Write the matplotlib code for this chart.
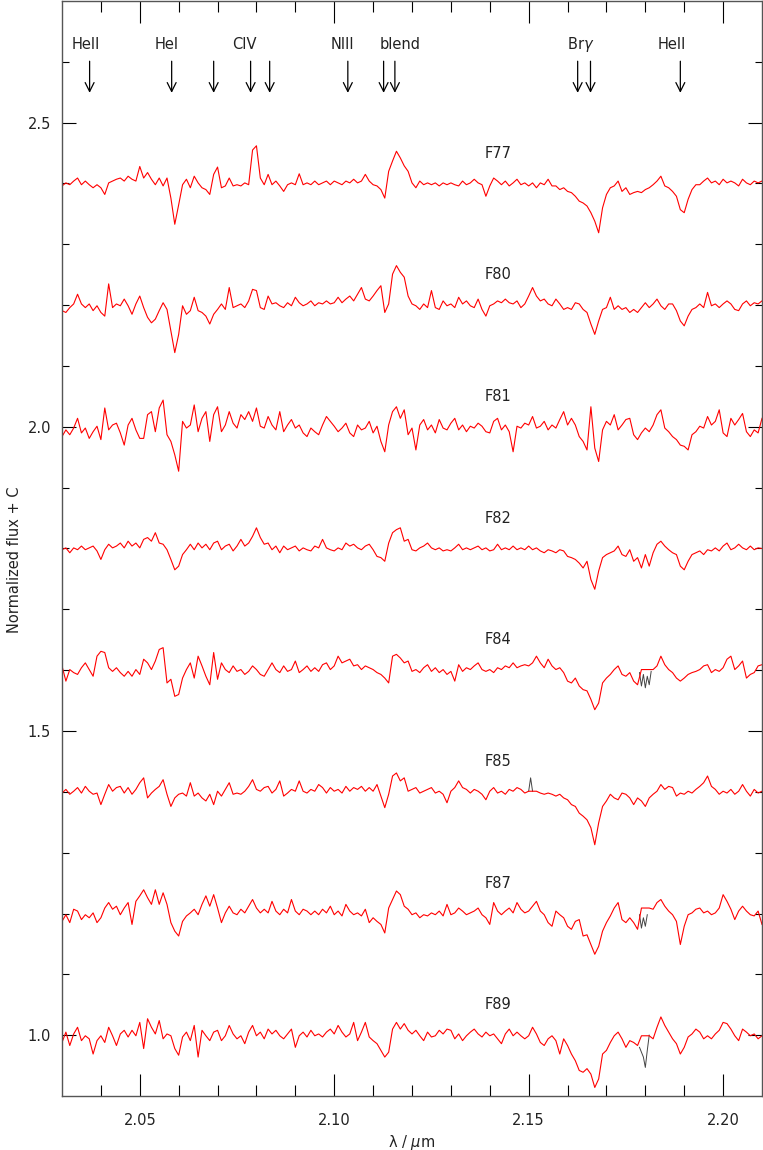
import matplotlib
matplotlib.use("Agg")
import matplotlib.pyplot as plt
import numpy as np

# 763 x 1150 output

# wavelength grid of the resampled spectra (micron)
wave = np.linspace(2.030, 2.210, 181)

# normalized flux, stored as deviation from continuum in units of 0.001
F77 = [-4, 1, -2, 4, 9, -2, 4, -2, -7, -2, -7, -18, 1, 4, 7, 9, 4, 12, 7, 4,
       28, 9, 18, 7, -2, 9, -4, 9, -24, -67, -35, -2, 7, -7, 12, 1, -7, -10, -18, 15,
       27, -7, -4, 9, -4, -2, -4, 1, -2, 55, 62, 9, -2, 15, -2, 4, -4, -13, -2, 1,
       -2, 16, -2, 1, -2, 4, -2, 1, 4, -2, 4, 1, -2, 4, 1, 7, 1, 4, 15, 4,
       -2, -4, -10, -24, 20, 37, 53, 42, 29, 20, 1, -7, 4, -2, 1, -2, 1, -4, 1, -2,
       1, -2, -4, 4, -2, 1, 7, 1, -2, -21, -4, 9, 4, -2, 4, -4, 1, 7, -2, 1,
       -4, 1, -7, 1, -2, 7, -4, -4, -10, -7, -13, -15, -21, -29, -32, -37, -48, -62, -81, -40,
       -18, -7, -4, 4, -13, -7, -18, -15, -13, -15, -10, -7, -2, 4, 12, -4, -7, -13, -21, -43,
       -48, -26, -10, -2, -2, 4, 9, 1, 4, -2, 7, 1, 4, 1, -4, 7, 1, -2, 4, 1, 4]
F80 = [-9, -12, -4, 2, 18, 2, -4, 2, -9, -1, -12, -18, 35, -4, 2, -1, 10, -1, -15, 2,
       15, -4, -20, -29, -23, -9, 4, -7, -42, -78, -48, -1, -15, -9, 13, -9, -12, -18, -31, -15,
       -7, 2, -7, 29, -4, -1, 2, -4, 7, 26, 24, -4, -7, 15, 2, 4, -1, -4, 4, -1,
       13, 4, -1, 2, 7, -1, 4, 2, 7, 2, 4, 13, 4, 10, 15, 7, 18, 29, 10, 7,
       15, 24, 32, -12, 2, 51, 65, 54, 46, 15, 2, -1, -7, 2, -4, 24, -4, -7, 7, -1,
       2, -4, 13, 2, 7, -1, -4, 10, -7, -18, -1, 2, 7, 4, 10, 4, 2, 7, -4, 2,
       15, 29, 15, 7, 10, 2, -1, 10, 2, -7, -4, -7, 4, 2, -7, -12, -31, -48, -26, -7,
       -4, 13, -7, -1, -7, -4, -12, -7, -12, -4, 4, -4, 2, 10, -1, -7, 2, 2, -9, -26,
       -34, -18, -7, -4, 2, -4, 21, -1, 2, -4, 2, 7, 2, -7, -9, 2, 7, -1, 4, 2, 7]
F81 = [-16, -5, -13, -2, 14, -10, -2, -19, -8, 1, -21, 31, -5, 3, 6, -10, -30, 3, 14, -5,
       -19, -19, 20, 25, -8, 31, 44, -13, -24, -46, -73, 9, -2, 3, 36, -8, 14, 25, -24, 20,
       33, -8, 3, 25, 6, -2, 20, 12, 25, 9, 31, 1, -2, 17, 3, -5, 25, -8, 3, 12,
       -2, 3, -10, -16, -2, -8, -13, 3, 17, 9, 1, -8, -2, 6, -10, -16, 3, -5, -2, 9,
       -10, 1, -24, -41, 3, 25, 33, 14, 28, -13, -2, -38, 3, 12, -5, 3, -10, 12, -2, -5,
       6, 14, -5, 3, -8, 1, -2, 6, 1, -8, -10, 9, 14, -5, 3, -8, -41, 1, -2, 6,
       3, 17, -2, 1, 9, -5, 3, -2, 12, 25, 3, 14, 3, -16, -24, -38, 33, -35, -57, -5,
       9, 3, 20, -5, 3, 12, 14, -13, -21, -10, -2, -8, 3, 20, 28, -2, -8, -16, -21, -30,
       -32, -38, -13, -8, 1, -2, 17, 3, 9, 28, -10, -16, 14, 3, 12, 22, -8, -16, -5, -10, 14]
F82 = [-2, 1, -7, 1, -2, 4, -2, 1, 4, -4, -18, -2, 7, 1, 4, 9, 1, 12, 4, 9,
       1, 15, 18, 12, 26, 9, 7, -2, -18, -35, -29, -10, -2, 7, -2, 9, 1, 7, -2, 9,
       12, -2, 4, 7, -4, 4, 15, 4, 9, 20, 34, 18, 7, 9, -2, 4, -7, 4, -2, 1,
       4, -4, 1, -2, -4, 4, 1, 15, 1, -2, -4, 1, -2, 9, 4, 7, 1, -2, 4, 7,
       -2, -13, -15, -21, 9, 26, 31, 34, 12, 15, -2, -4, 1, 4, 9, 1, -2, 1, -4, -2,
       -4, 1, 7, -2, 1, -2, 1, 4, -2, 1, -4, -2, 7, -2, 1, -2, 4, -2, 1, -2,
       4, -2, 1, -4, -7, -2, -4, -7, -2, -4, -13, -15, -18, -24, -32, -21, -51, -67, -37, -15,
       -10, -7, -4, 4, -10, -13, -2, -21, -15, -32, -10, -29, -7, 7, 12, 4, -2, -7, -10, -29,
       -35, -21, -10, -7, -4, -10, -2, -4, 1, -4, 4, 9, -2, 1, 7, 1, -2, 4, -2, 1, 0]
F84 = [7, -18, 1, -4, -7, 4, 12, 1, -10, 23, 31, 29, 4, -2, 4, -4, -10, -2, -10, 1,
       -7, 18, 12, 1, 15, 34, 37, -21, -15, -43, -40, -13, 1, 12, -13, 23, 7, -10, -24, 29,
       -15, 12, 1, -4, 7, -2, 1, -7, -2, 7, 1, -7, -10, 1, 12, 1, -4, 7, -2, 1,
       15, -4, 1, 7, -2, 4, -2, 9, 12, 1, 7, 23, 12, 15, 18, 7, 9, 1, 7, 4,
       1, -4, -7, -13, -21, 23, 26, 20, 12, 15, -2, 1, -4, 4, 9, -2, 4, -4, 1, -7,
       -2, -18, 9, -2, 4, 1, 7, 12, 1, -2, 1, -4, 4, 1, 7, 4, 12, 4, 7, 9,
       7, 12, 23, 12, 4, 18, 7, 1, 4, -4, -18, -21, -13, -26, -32, -34, -48, -65, -54, -21,
       -13, -7, 1, 7, -7, -10, -4, -18, -24, 1, 1, 1, 1, 7, 23, 9, 1, -4, -13, -18,
       -13, -7, -4, -2, 1, 7, 9, -4, 1, -2, 4, 18, 23, 1, 7, 15, -13, -7, -4, 7, 9]
F85 = [-2, 4, -4, 1, 7, -2, 9, 1, -4, -2, -21, -4, 12, 1, 7, 9, -2, 7, -4, 4,
       15, 23, -10, -2, 4, 9, 20, -4, -24, -10, -4, -2, -7, 15, -7, -2, -10, -15, -4, -21,
       1, -7, 4, 15, -4, -2, -4, 1, 9, 20, 4, 1, 7, 9, -2, 4, 18, -7, -2, 4,
       1, 18, 1, -2, 4, 1, 12, 7, -2, 7, 1, 4, -2, 9, 1, 7, 4, 9, 1, 7,
       1, 12, -7, -26, -4, 26, 31, 18, 23, 1, 4, 7, -2, 1, 4, 7, -2, 1, -4, -18,
       1, 7, 18, 7, 4, -2, 4, 1, -4, -13, 1, 7, -2, 1, -4, 4, 1, 7, 4, -2,
       1, 1, 1, -2, -4, -2, -4, -7, -4, -10, -13, -21, -24, -35, -40, -46, -59, -87, -51, -24,
       -15, -4, -10, -13, -2, -4, -10, -21, -10, -15, -24, -10, -4, 1, 12, 4, 9, 7, -7, -2,
       -4, 1, -2, 4, 9, 15, 26, 9, 4, -4, 1, -2, 4, -4, 1, 12, 1, -7, 4, -2, 1]
F87 = [-13, -2, -15, 7, 4, -10, -2, -7, 1, -15, -7, 9, 18, 7, 12, -2, 9, 18, -18, 20,
       29, 39, 26, 15, 39, 15, 34, 15, -15, -29, -37, -13, -4, 1, 7, -2, 15, 29, 12, 31,
       9, -15, 1, 12, 1, -2, 7, 1, 12, 23, 9, 1, 7, 1, 20, 4, -2, 7, 1, 23,
       4, -2, 7, 4, -2, 4, -2, 7, 1, 12, -2, 4, -4, 15, 4, -2, 1, -4, 7, -15,
       -7, -13, -18, -32, 9, 23, 37, 31, 12, 7, -2, 1, -7, -2, -4, 1, -2, 4, -4, 15,
       -2, 1, 9, 4, -2, 1, 4, 9, -2, -7, -18, 18, 4, -2, 4, 9, 1, 18, 7, 1,
       4, 12, 20, 4, -2, -15, -21, 4, -2, -7, -21, -26, -13, -10, -37, -35, -51, -67, -54, -29,
       -15, -4, 9, 18, -10, -15, -7, -15, -26, 9, 9, 9, 7, 18, 23, 12, 4, -2, -13, -51,
       -21, -2, 1, 7, 9, 1, 4, -2, 1, 9, 31, 20, 7, -10, 4, 12, 4, -2, -4, 4, -18]
F89 = [-12, 5, -17, 2, 13, -9, -1, -6, -31, -9, -1, -12, 13, -1, -17, 2, 8, -3, 8, -1,
       21, -22, 27, 13, 2, 24, -6, 2, -1, -22, -33, -3, 5, -9, 16, -36, 8, -1, -9, 5,
       8, -9, -1, 16, 2, -6, -1, -14, 5, 16, -1, 5, -6, 10, 2, 8, -1, -6, 2, 10,
       -20, -1, 5, -3, 8, -1, 2, -3, 5, 10, 2, 16, 5, -3, 2, 21, -9, 5, 21, -3,
       -9, -14, -25, -36, -28, 10, 21, 10, 19, 8, 2, 8, -1, -9, 5, -3, -1, 8, 2, 10,
       8, -6, 2, -9, -1, 5, 10, 2, -3, 5, -1, 2, -6, -14, 2, 10, -1, 5, -1, -6,
       -1, 13, 2, -12, -17, -6, -1, -9, -31, -6, -17, -31, -42, -58, -61, -55, -64, -86, -72, -31,
       -25, -12, -1, 5, -6, -20, -9, -12, -17, -1, -1, -1, -6, 13, 30, 16, 5, -6, -14, -31,
       -20, -3, 2, 10, 5, -6, -1, -6, 2, 8, 21, 19, 10, -1, -9, 10, 5, -1, 2, -6, -1]

spectra = [F77, F80, F81, F82, F84, F85, F87, F89]
names = ["F77", "F80", "F81", "F82", "F84", "F85", "F87", "F89"]
offsets = [1.4, 1.2, 1.0, 0.8, 0.6, 0.4, 0.2, 0.0]

# unmasked (telluric) pieces shown in grey under the red curves
grey_wave = {
    "F84": [2.1785, 2.1790, 2.1795, 2.1800, 2.1805, 2.1810, 2.1815],
    "F85": [2.1500, 2.1505, 2.1510],
    "F87": [2.1785, 2.1790, 2.1795, 2.1800, 2.1805],
    "F89": [2.1785, 2.1790, 2.1795, 2.1800, 2.1805, 2.1810],
}
grey_flux = {
    "F84": [-4, -26, -7, -29, -10, -24, -2],
    "F85": [1, 23, 1],
    "F87": [-2, -24, -7, -21, -2],
    "F89": [-20, -28, -36, -53, -25, 0],
}

# line identifications
line_wave = [2.0371, 2.0582, 2.0690, 2.0785, 2.0834, 2.1035, 2.1127, 2.1156, 2.1626, 2.1659, 2.1890]
line_names = ["HeII", "HeI", "CIV", "NIII", "blend", r"Br$\gamma$", "HeII"]
name_wave = [2.0360, 2.0569, 2.0769, 2.1022, 2.1169, 2.1634, 2.1868]

fig = plt.figure(figsize=(7.63, 11.5), dpi=100)
ax = fig.add_axes([62 / 763, 54 / 1150, 700 / 763, 1095 / 1150])

for name, flux, c in zip(names, spectra, offsets):
    if name in grey_wave:
        ax.plot(grey_wave[name], 1 + np.array(grey_flux[name]) / 1000 + c,
                color="#444444", lw=0.7, zorder=1)
    ax.plot(wave, 1 + np.array(flux) / 1000 + c, color="#ff0000", lw=0.8, zorder=2)
    ax.text(2.1422, 1.05 + c, name, ha="center", va="center", fontsize=10.5, color="#222222")

for lw_ in line_wave:
    ax.annotate("", xy=(lw_, 2.549), xytext=(lw_, 2.601),
                arrowprops=dict(arrowstyle="->", lw=0.9, color="black",
                                mutation_scale=16, shrinkA=0, shrinkB=0))
for nm, nw in zip(line_names, name_wave):
    ax.text(nw, 2.628, nm, ha="center", va="center", fontsize=10.5, color="#222222")

ax.set_xlim(2.03, 2.21)
ax.set_ylim(0.9, 2.70)
ax.set_xticks([2.05, 2.10, 2.15, 2.20])
ax.set_xticklabels(["2.05", "2.10", "2.15", "2.20"])
ax.set_xticks(np.arange(2.04, 2.21, 0.01), minor=True)
ax.set_yticks([1.0, 1.5, 2.0, 2.5])
ax.set_yticklabels(["1.0", "1.5", "2.0", "2.5"])
ax.set_yticks(np.arange(1.0, 2.7, 0.1), minor=True)
ax.tick_params(axis="x", which="major", direction="in", length=16, width=0.8,
               top=True, bottom=True, labelsize=10.5, pad=12, labelcolor="#222222")
ax.tick_params(axis="x", which="minor", direction="in", length=8, width=0.8, top=True, bottom=True)
ax.tick_params(axis="y", which="major", direction="in", length=10, width=0.8,
               left=True, right=True, labelsize=10.5, pad=8, labelcolor="#222222")
ax.tick_params(axis="y", which="minor", direction="in", length=5, width=0.8, left=True, right=True)
for s in ax.spines.values():
    s.set_color("#555555")
    s.set_linewidth(1.0)

ax.set_xlabel(r"λ / $\mu$m", fontsize=10.5, color="#222222", labelpad=4)
ax.set_ylabel("Normalized flux + C", fontsize=10.5, color="#222222")
ax.yaxis.set_label_coords(-40 / 700, 0.49)

fig.savefig("out.png", dpi=100)
